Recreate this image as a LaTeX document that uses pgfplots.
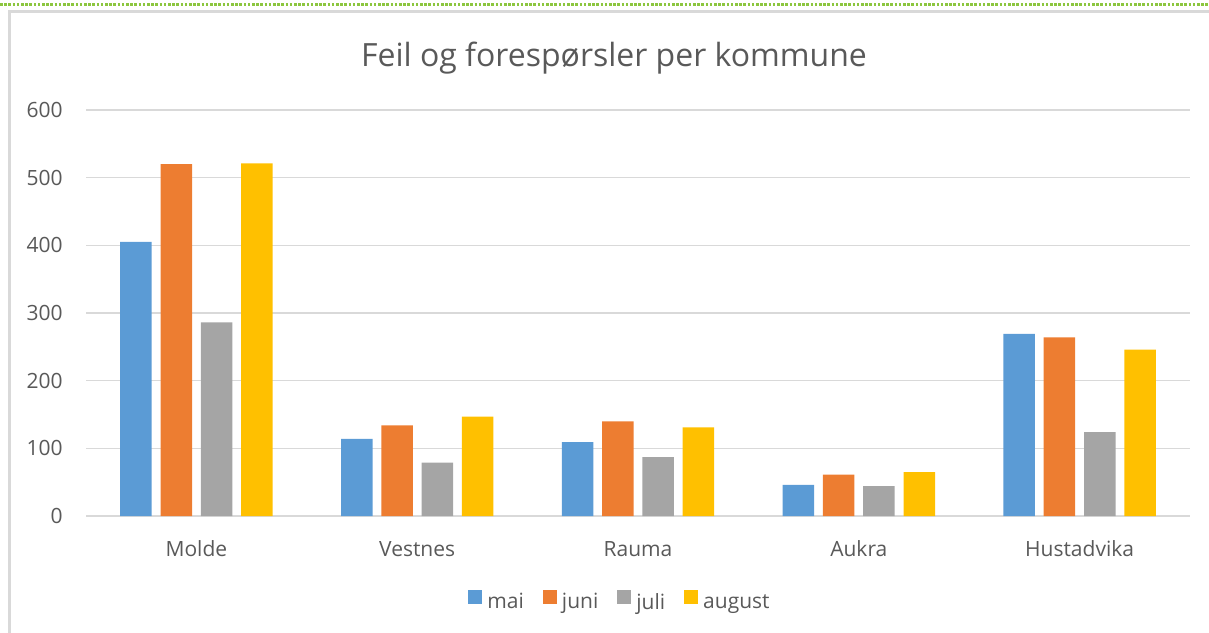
\documentclass[border=0pt]{standalone}
\usepackage{fontspec}
\setmainfont{Open Sans}
\usepackage{pgfplots}
\pgfplotsset{compat=1.18}
\definecolor{txt}{HTML}{595959}
\definecolor{gridc}{HTML}{D9D9D9}
\definecolor{cmai}{HTML}{5B9BD5}
\definecolor{cjuni}{HTML}{ED7D31}
\definecolor{cjuli}{HTML}{A5A5A5}
\definecolor{caug}{HTML}{FFC000}
\definecolor{greendot}{RGB}{140,198,63}
\begin{document}
\begin{tikzpicture}
\useasboundingbox (0,0) rectangle (604.5pt,316pt);
% page decorations
\draw[greendot, line width=1.5pt, dash pattern=on 1.3pt off 0.8pt] (0,313.5pt) -- (604.5pt,313.5pt);
\draw[gridc, line width=1.4pt] (4.75pt,-2pt) -- (4.75pt,310.25pt) -- (606pt,310.25pt);
\node[anchor=base, text=txt, font=\fontsize{16}{19}\selectfont, inner sep=0pt] at (307pt,282.5pt) {Feil og forespørsler per kommune};
\begin{axis}[
  at={(43pt,58pt)}, anchor=south west,
  scale only axis, width=552pt, height=203pt,
  ybar=4.4pt, bar width=15.75pt,
  xmin=-0.5, xmax=4.5, ymin=0, ymax=600,
  xtick={0,1,2,3,4},
  xticklabels={Molde,Vestnes,Rauma,Aukra,Hustadvika},
  ytick={0,100,200,300,400,500,600},
  ymajorgrids,
  major grid style={draw=gridc, line width=0.8pt},
  axis line style={draw=none},
  tick style={draw=none},
  /pgf/number format/assume math mode=true,
  ticklabel style={font=\fontsize{10.5}{12}\selectfont, text=txt},
  yticklabel style={inner sep=0pt, anchor=east, xshift=-11.5pt},
  xticklabel style={inner sep=0pt, anchor=base, yshift=-16pt},
  legend columns=4,
  legend style={draw=none, fill=none, at={(0.4828,-0.2094)}, anchor=center,
    font=\fontsize{10.5}{12}\selectfont, text=txt, inner sep=0pt,
    nodes={inner sep=0pt},
    /tikz/every odd column/.style={column sep=2.5pt},
    /tikz/every even column/.style={column sep=9.5pt}},
  legend image code/.code={\fill[#1, draw=none] (0pt,-0.6pt) rectangle (7pt,6.4pt);},
]
\addplot[fill=cmai, draw=none] coordinates {(0,405) (1,114) (2,109) (3,46) (4,269)};
\addplot[fill=cjuni, draw=none] coordinates {(0,520) (1,134) (2,140) (3,61) (4,264)};
\addplot[fill=cjuli, draw=none] coordinates {(0,286) (1,79) (2,87) (3,44) (4,124)};
\addplot[fill=caug, draw=none] coordinates {(0,521) (1,147) (2,131) (3,65) (4,246)};
\legend{mai,juni,juli,august}
\end{axis}
\end{tikzpicture}
\end{document}
